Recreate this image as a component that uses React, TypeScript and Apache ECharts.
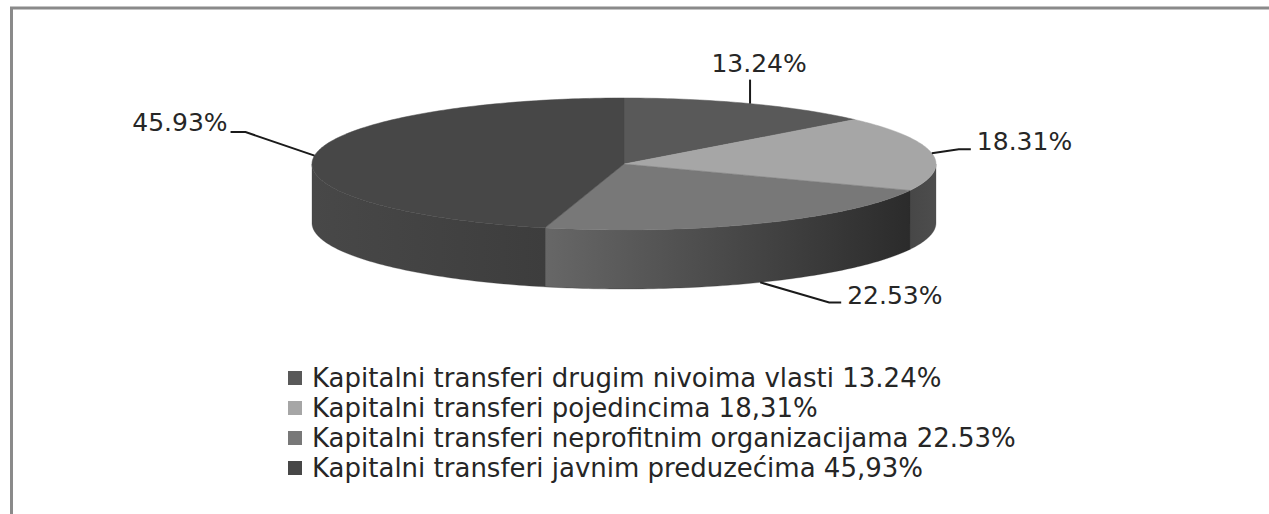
import React, { useEffect, useRef } from 'react';
import * as echarts from 'echarts';

// ---- data ----
const categories = [
  'Kapitalni transferi drugim nivoima vlasti 13.24%',
  'Kapitalni transferi pojedincima 18,31%',
  'Kapitalni transferi neprofitnim organizacijama 22.53%',
  'Kapitalni transferi javnim preduzećima 45,93%',
];
const values = [13.24, 18.31, 22.53, 45.93];
const sliceLabels = ['13.24%', '18.31%', '22.53%', '45.93%'];

// ---- styles ----
const topColors = ['#595959', '#a6a6a6', '#787878', '#474747'];
const sideColors = [
  ['#505050', '#404040'],
  ['#474747', '#4d4d4d'],
  ['#676767', '#2b2b2b'],
  ['#484848', '#3d3d3d'],
];
const FONT = 'DejaVu Sans';
const TEXT_COLOR = '#262626';

// ---- layout of the 3D pie ----
const CX = 624;
const CY = 164;
const RX = 312;
const RY = 66;
const DEPTH = 59;

// leader elbow offset from anchor, tail length (signed), text placement relative to elbow
const leaderLayout = [
  { elbow: [0, -24], tail: 0, align: 'center', tdx: 9, tdy: -4 },
  { elbow: [27, -4], tail: 12, align: 'left', tdx: 18, tdy: 5 },
  { elbow: [69, 20], tail: 12, align: 'left', tdx: 18, tdy: 6 },
  { elbow: [-69, -23.5], tail: -15, align: 'right', tdx: -18, tdy: 3 },
];

const RAD = Math.PI / 180;
const pt = (deg: number, dy = 0): number[] => [
  CX + RX * Math.sin(deg * RAD),
  CY - RY * Math.cos(deg * RAD) + dy,
];

export default function App() {
  const ref = useRef<HTMLDivElement>(null);
  useEffect(() => {
    if (!ref.current) return;
    const chart = echarts.init(ref.current, undefined, { renderer: 'svg' });
    const total = values.reduce((a, b) => a + b, 0);
    const starts: number[] = [];
    let acc = 0;
    values.forEach((v) => {
      starts.push((acc / total) * 360);
      acc += v;
    });

    const renderItem = (params: any, api: any) => {
      const i = params.dataIndex;
      const a0 = starts[i];
      const a1 = a0 + (api.value(0) / total) * 360;
      const children: any[] = [];

      // visible side wall (front half: 90..270 deg)
      const s0 = Math.max(a0, 90);
      const s1 = Math.min(a1, 270);
      if (s1 > s0) {
        const topPts: number[][] = [];
        for (let a = s0; a < s1; a += 1) topPts.push(pt(a));
        topPts.push(pt(s1));
        const botPts = topPts.map((p) => [p[0], p[1] + DEPTH]).reverse();
        const xs = topPts.map((p) => p[0]);
        const xl = Math.min(...xs);
        const xr = Math.max(...xs);
        children.push({
          type: 'polygon',
          shape: { points: topPts.concat(botPts) },
          style: {
            fill: {
              type: 'linear',
              x: xl,
              y: 0,
              x2: xr,
              y2: 0,
              global: true,
              colorStops: [
                { offset: 0, color: sideColors[i][0] },
                { offset: 1, color: sideColors[i][1] },
              ],
            },
            stroke: sideColors[i][1],
            lineWidth: 0.3,
          },
        });
      }

      // top face
      const pts: number[][] = [[CX, CY]];
      for (let a = a0; a < a1; a += 1) pts.push(pt(a));
      pts.push(pt(a1));
      children.push({
        type: 'polygon',
        shape: { points: pts },
        style: { fill: topColors[i], stroke: topColors[i], lineWidth: 0.5 },
      });

      // label + leader line
      const m = (a0 + a1) / 2;
      const front = Math.cos(m * RAD) < 0;
      const anchor = pt(m, front ? DEPTH : 0);
      const L = leaderLayout[i];
      const elbow = [anchor[0] + L.elbow[0], anchor[1] + L.elbow[1]];
      const line = [anchor, elbow];
      if (L.tail !== 0) line.push([elbow[0] + L.tail, elbow[1]]);
      children.push({
        type: 'polyline',
        shape: { points: line },
        style: { stroke: '#1a1a1a', lineWidth: 2, fill: null },
      });
      const tx = L.tail !== 0 ? elbow[0] + L.tail + (L.tdx > 0 ? 6 : -3) : elbow[0] + L.tdx;
      children.push({
        type: 'text',
        x: tx,
        y: elbow[1] + L.tdy,
        style: {
          text: sliceLabels[i],
          fill: TEXT_COLOR,
          font: `25px "${FONT}"`,
          align: L.align,
          verticalAlign: 'bottom',
        },
      });

      return { type: 'group', children };
    };

    chart.setOption({
      animation: false,
      backgroundColor: '#ffffff',
      legend: {
        orient: 'vertical',
        left: 283,
        top: 358,
        itemWidth: 14,
        itemHeight: 14,
        itemGap: 0,
        icon: 'rect',
        selectedMode: false,
        textStyle: {
          fontFamily: FONT,
          fontSize: 26,
          color: TEXT_COLOR,
          lineHeight: 30,
          padding: [0, 0, 0, 5],
        },
        data: categories,
      },
      graphic: [
        {
          type: 'line',
          shape: { x1: 10, y1: 8, x2: 1269, y2: 8 },
          style: { stroke: '#8a8a8a', lineWidth: 3 },
        },
        {
          type: 'line',
          shape: { x1: 11.5, y1: 8, x2: 11.5, y2: 514 },
          style: { stroke: '#8a8a8a', lineWidth: 3 },
        },
      ],
      series: [
        {
          type: 'pie',
          radius: [0, 0],
          center: [CX, CY],
          silent: true,
          label: { show: false },
          labelLine: { show: false },
          data: categories.map((c, i) => ({
            name: c,
            value: values[i],
            itemStyle: { color: topColors[i] },
          })),
        },
        {
          type: 'custom',
          coordinateSystem: 'none',
          silent: true,
          renderItem,
          data: values.map((v) => [v]),
        },
      ],
    });
    return () => chart.dispose();
  }, []);
  return (
    <div
      ref={ref}
      style={{ position: 'fixed', left: 0, top: 0, width: 1269, height: 514 }}
    />
  );
}
